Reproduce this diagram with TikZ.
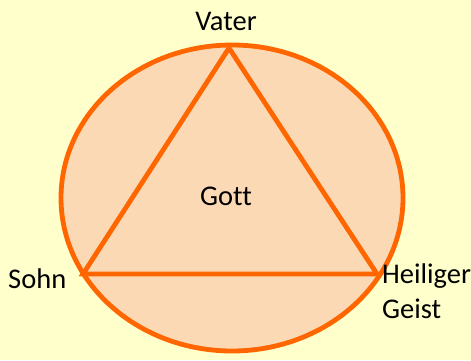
\documentclass[tikz,border=0pt]{standalone}
\usepackage{fontspec}
\setmainfont{Carlito}[Ligatures=CommonOff]
\usepackage{tikz}
\usetikzlibrary{positioning}
\definecolor{PaleYellow}{RGB}{255,255,204}
\definecolor{Peach}{RGB}{252,217,181}
\definecolor{DeepOrange}{RGB}{255,102,0}

\begin{document}
\begin{tikzpicture}[x=1pt, y=-1pt,
  ring/.style={draw=DeepOrange, fill=Peach, line width=4.8pt},
  edge/.style={draw=DeepOrange, line width=4.8pt, line join=miter},
  lbl/.style={font=\fontsize{28.5}{35}\selectfont, inner sep=0pt,
              anchor=base, text=black},
]
\fill[PaleYellow] (0,0) rectangle (471,360);
\useasboundingbox (0,0) rectangle (471,360);

% Kreis
\coordinate (mid) at (232,198);
\draw[ring] (mid) ellipse [x radius=171, y radius=153];

% Dreieck
\coordinate (vater) at (229,48);
\coordinate (sohn)  at (83,274);
\coordinate (geist) at (377,274);
\draw[edge] (vater) -- (sohn) -- (geist) -- cycle;

% Beschriftung
\node[lbl] (tvater) at (226,30) {Vater};
\node[lbl] (tgott)  at (226,205) {Gott};
\node[lbl, anchor=base west] (tsohn) at (8,288) {Sohn};
\node[lbl, anchor=base west, align=left] (tgeist) at (382,318)
  {Heiliger\\Geist};
\end{tikzpicture}
\end{document}
